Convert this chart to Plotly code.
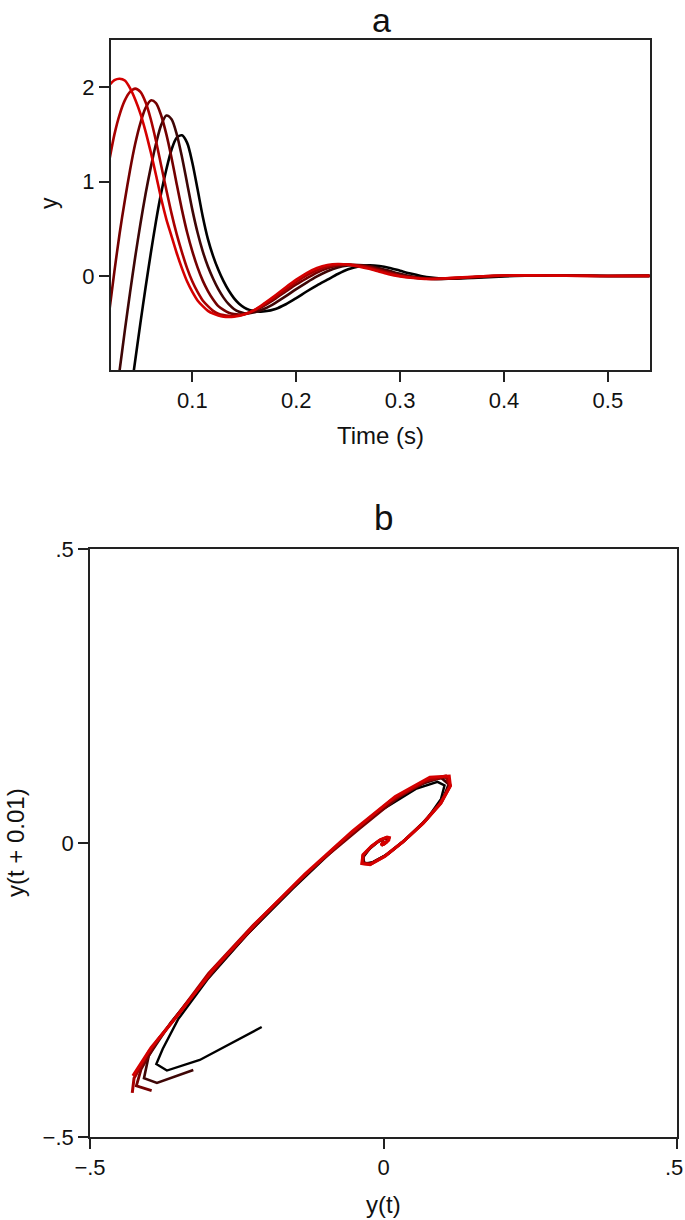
import plotly.graph_objects as go

# ---------------- Panel a: time series (five curves, black -> red) ----------------
t_c1 = [0.040, 0.0437, 0.050, 0.055, 0.060, 0.065, 0.070, 0.075, 0.080, 0.085, 0.090, 0.095, 0.100, 0.105,
        0.110, 0.115, 0.120, 0.125, 0.130, 0.135, 0.140, 0.145, 0.150, 0.155, 0.160, 0.165, 0.170, 0.180,
        0.190, 0.200, 0.210, 0.220, 0.230, 0.240, 0.250, 0.260, 0.270, 0.280, 0.290, 0.300, 0.310, 0.320,
        0.330, 0.340, 0.350, 0.370, 0.390, 0.410, 0.430, 0.450, 0.470, 0.490, 0.510, 0.540]
y_c1 = [-1.30, -1.00, -0.50, -0.12, 0.24, 0.58, 0.88, 1.13, 1.34, 1.465, 1.49, 1.41, 1.20, 0.92,
        0.63, 0.39, 0.21, 0.065, -0.055, -0.155, -0.235, -0.295, -0.335, -0.36, -0.372, -0.378, -0.375, -0.35,
        -0.30, -0.235, -0.165, -0.10, -0.04, 0.02, 0.07, 0.10, 0.112, 0.105, 0.085, 0.055, 0.025, 0.0,
        -0.018, -0.027, -0.030, -0.022, -0.010, 0.0, 0.005, 0.005, 0.003, 0.001, -0.001, 0.0]

t_c2 = [0.025, 0.030, 0.035, 0.040, 0.045, 0.050, 0.055, 0.060, 0.065, 0.070, 0.075, 0.080, 0.085, 0.090,
        0.095, 0.100, 0.105, 0.110, 0.115, 0.120, 0.125, 0.130, 0.135, 0.140, 0.145, 0.150, 0.155, 0.160,
        0.170, 0.180, 0.190, 0.200, 0.210, 0.220, 0.230, 0.240, 0.250, 0.260, 0.270, 0.280, 0.290, 0.300,
        0.310, 0.320, 0.330, 0.340, 0.360, 0.380, 0.400, 0.420, 0.440, 0.460, 0.480, 0.500, 0.540]
y_c2 = [-1.40, -1.00, -0.58, -0.18, 0.20, 0.55, 0.87, 1.15, 1.40, 1.60, 1.70, 1.66, 1.50, 1.26,
        0.98, 0.70, 0.46, 0.26, 0.10, -0.03, -0.14, -0.23, -0.30, -0.35, -0.38, -0.395, -0.395, -0.385,
        -0.345, -0.285, -0.215, -0.14, -0.07, -0.005, 0.05, 0.09, 0.11, 0.115, 0.105, 0.082, 0.052, 0.022,
        -0.003, -0.020, -0.030, -0.032, -0.022, -0.009, 0.001, 0.005, 0.005, 0.003, 0.001, -0.001, 0.0]

t_c3 = [0.020, 0.025, 0.030, 0.035, 0.040, 0.045, 0.050, 0.055, 0.060, 0.065, 0.070, 0.075, 0.080, 0.085,
        0.090, 0.095, 0.100, 0.105, 0.110, 0.115, 0.120, 0.125, 0.130, 0.135, 0.140, 0.145, 0.150, 0.155,
        0.160, 0.170, 0.180, 0.190, 0.200, 0.210, 0.220, 0.230, 0.240, 0.250, 0.260, 0.270, 0.280, 0.290,
        0.300, 0.310, 0.320, 0.330, 0.340, 0.360, 0.380, 0.400, 0.420, 0.440, 0.460, 0.480, 0.500, 0.540]
y_c3 = [-0.38, 0.05, 0.45, 0.80, 1.12, 1.40, 1.62, 1.78, 1.86, 1.83, 1.70, 1.50, 1.25, 0.97,
        0.70, 0.46, 0.26, 0.09, -0.05, -0.16, -0.25, -0.32, -0.36, -0.39, -0.405, -0.41, -0.405, -0.39,
        -0.37, -0.31, -0.24, -0.165, -0.09, -0.025, 0.035, 0.08, 0.107, 0.118, 0.113, 0.096, 0.068, 0.038,
        0.010, -0.010, -0.024, -0.031, -0.031, -0.020, -0.007, 0.002, 0.006, 0.005, 0.003, 0.001, -0.001, 0.0]

t_c4 = [0.020, 0.025, 0.030, 0.035, 0.040, 0.045, 0.050, 0.055, 0.060, 0.065, 0.070, 0.075, 0.080, 0.085,
        0.090, 0.095, 0.100, 0.105, 0.110, 0.115, 0.120, 0.125, 0.130, 0.135, 0.140, 0.145, 0.150, 0.160,
        0.170, 0.180, 0.190, 0.200, 0.210, 0.220, 0.230, 0.240, 0.250, 0.260, 0.270, 0.280, 0.290, 0.300,
        0.310, 0.320, 0.330, 0.340, 0.360, 0.380, 0.400, 0.420, 0.440, 0.460, 0.480, 0.500, 0.540]
y_c4 = [1.22, 1.50, 1.71, 1.86, 1.95, 1.985, 1.95, 1.84, 1.66, 1.43, 1.17, 0.91, 0.66, 0.44,
        0.25, 0.08, -0.06, -0.17, -0.26, -0.32, -0.37, -0.40, -0.415, -0.423, -0.425, -0.42, -0.405, -0.36,
        -0.30, -0.225, -0.145, -0.065, 0.005, 0.06, 0.10, 0.12, 0.122, 0.11, 0.087, 0.057, 0.027, 0.0,
        -0.017, -0.028, -0.032, -0.030, -0.018, -0.005, 0.003, 0.006, 0.005, 0.003, 0.0, -0.001, 0.0]

t_c5 = [0.020, 0.025, 0.030, 0.035, 0.040, 0.045, 0.050, 0.055, 0.060, 0.065, 0.070, 0.075, 0.080, 0.085,
        0.090, 0.095, 0.100, 0.105, 0.110, 0.115, 0.120, 0.125, 0.130, 0.135, 0.140, 0.150, 0.160, 0.170,
        0.180, 0.190, 0.200, 0.210, 0.220, 0.230, 0.240, 0.250, 0.260, 0.270, 0.280, 0.290, 0.300, 0.310,
        0.320, 0.330, 0.340, 0.360, 0.380, 0.400, 0.420, 0.440, 0.460, 0.480, 0.500, 0.540]
y_c5 = [2.02, 2.075, 2.09, 2.07, 1.99, 1.87, 1.72, 1.53, 1.31, 1.07, 0.82, 0.60, 0.42, 0.24,
        0.08, -0.06, -0.17, -0.26, -0.32, -0.37, -0.40, -0.42, -0.432, -0.435, -0.432, -0.41, -0.36, -0.285,
        -0.205, -0.12, -0.04, 0.03, 0.083, 0.115, 0.126, 0.12, 0.10, 0.075, 0.045, 0.015, -0.005, -0.020,
        -0.030, -0.032, -0.028, -0.015, -0.003, 0.004, 0.006, 0.005, 0.002, 0.0, -0.001, 0.0]

# ---------------- Panel b: sampled sequences y(t) at 0.01 s steps ----------------
seq_c1 = [-0.2075, -0.313, -0.369, -0.387, -0.376, -0.35, -0.30, -0.232, -0.155, -0.078, -0.005, 0.055,
          0.092, 0.104, 0.098, 0.075, 0.042, 0.01, -0.017, -0.032, -0.035, -0.025, -0.011, 0.001, 0.007,
          0.008, 0.006, 0.003, 0.0, -0.002, -0.002, -0.001, 0.0]
seq_c2 = [-0.324, -0.386, -0.408, -0.40, -0.362, -0.305, -0.235, -0.158, -0.078, -0.003, 0.058, 0.098,
          0.111, 0.10, 0.072, 0.038, 0.006, -0.02, -0.034, -0.035, -0.023, -0.009, 0.003, 0.008, 0.008,
          0.005, 0.002, -0.001, -0.002, -0.002, 0.0, 0.001, 0.0]
seq_c3 = [-0.395, -0.421, -0.413, -0.385, -0.335, -0.272, -0.197, -0.118, -0.04, 0.025, 0.078, 0.107,
          0.112, 0.095, 0.066, 0.033, 0.002, -0.022, -0.035, -0.034, -0.021, -0.007, 0.004, 0.009, 0.008,
          0.005, 0.002, -0.001, -0.002, -0.002, 0.0, 0.001, 0.0]
seq_c4 = [-0.428, -0.425, -0.40, -0.355, -0.298, -0.222, -0.14, -0.06, 0.012, 0.072, 0.106, 0.114,
          0.098, 0.068, 0.034, 0.003, -0.022, -0.036, -0.035, -0.021, -0.006, 0.005, 0.009, 0.008, 0.005,
          0.001, -0.002, -0.003, -0.002, 0.0, 0.001, 0.0]
seq_c5 = [-0.427, -0.396, -0.348, -0.29, -0.215, -0.134, -0.053, 0.02, 0.079, 0.112, 0.114, 0.097,
          0.067, 0.033, 0.002, -0.023, -0.037, -0.035, -0.02, -0.005, 0.006, 0.01, 0.009, 0.005, 0.001,
          -0.002, -0.003, -0.002, 0.0, 0.001, 0.001, 0.0]

a_ticks = [0.1, 0.2, 0.3, 0.4, 0.5]
a_ticktext = ["0.1", "0.2", "0.3", "0.4", "0.5"]
a_yticks = [0, 1, 2]
b_ticks = [-0.5, 0, 0.5]
b_yticktext = ["\u2212.5", "0", ".5"]
b_xticktext = ["\u2212.5", "0", ""]   # the ".5" label at the right edge is placed as an annotation

colors = ["#000000", "#3e0606", "#740000", "#a80000", "#d50000"]
widths_b = [2.4, 2.6, 2.8, 3.0, 3.0]

series_a = [(t_c1, y_c1), (t_c2, y_c2), (t_c3, y_c3), (t_c4, y_c4), (t_c5, y_c5)]
series_b = [seq_c1, seq_c2, seq_c3, seq_c4, seq_c5]

W, H = 685, 1220
FONT = "Liberation Sans, Arial, Helvetica, sans-serif"

fig = go.Figure()
for (tt, yy), c in zip(series_a, colors):
    fig.add_trace(go.Scatter(x=tt, y=yy, mode="lines",
                             line=dict(color=c, width=2.6, shape="spline", smoothing=0.8),
                             xaxis="x", yaxis="y", showlegend=False, hoverinfo="skip"))
for s, c, w in zip(series_b, colors, widths_b):
    fig.add_trace(go.Scatter(x=s[:-1], y=s[1:], mode="lines", line=dict(color=c, width=w),
                             xaxis="x2", yaxis="y2", showlegend=False, hoverinfo="skip"))


def px_x(p):
    return p / W


def px_y(p):
    return 1 - p / H


axis_common = dict(showgrid=False, zeroline=False, ticks="outside", ticklen=10, tickwidth=1.5,
                   tickcolor="#222", linecolor="#222", showline=True, mirror=True,
                   automargin=False, ticklabeloverflow="allow",
                   tickfont=dict(family=FONT, size=22, color="#111"))

fig.update_layout(
    template="none",
    width=W, height=H,
    margin=dict(l=0, r=0, t=0, b=0, pad=0),
    paper_bgcolor="white", plot_bgcolor="white",
    xaxis=dict(domain=[px_x(111), px_x(650)], range=[0.0217, 0.5405], tickvals=a_ticks,
               ticktext=a_ticktext, anchor="y", linewidth=2, **axis_common),
    yaxis=dict(domain=[px_y(370), px_y(40)], range=[-0.997, 2.5], tickvals=a_yticks, anchor="x",
               linewidth=2, **axis_common),
    xaxis2=dict(domain=[px_x(90), px_x(677)], range=[-0.5, 0.5], tickvals=b_ticks,
                ticktext=b_xticktext, anchor="y2", linewidth=1.6, **axis_common),
    yaxis2=dict(domain=[px_y(1137), px_y(549)], range=[-0.5, 0.5], tickvals=b_ticks,
                ticktext=b_yticktext, anchor="x2", linewidth=1.6, **axis_common),
)


def ann(text, x, y, size, angle=0, xanchor="center"):
    fig.add_annotation(text=text, x=px_x(x), y=px_y(y), xref="paper", yref="paper", showarrow=False,
                       xanchor=xanchor, yanchor="middle", textangle=angle,
                       font=dict(family=FONT, size=size, color="#111"))


ann("a", 381, 20, 34)
ann("b", 383, 517, 35)
ann("y", 49, 203, 23, -90)
ann("Time (s)", 380, 435, 24)
ann("y(t)", 383, 1204, 24)
ann("y(t + 0.01)", 15, 843, 24, -90)
ann(".5", 685, 1167, 22, xanchor="right")

fig.write_html("out.html", config={"displayModeBar": False},
               post_script="document.body.style.margin='0px';")
